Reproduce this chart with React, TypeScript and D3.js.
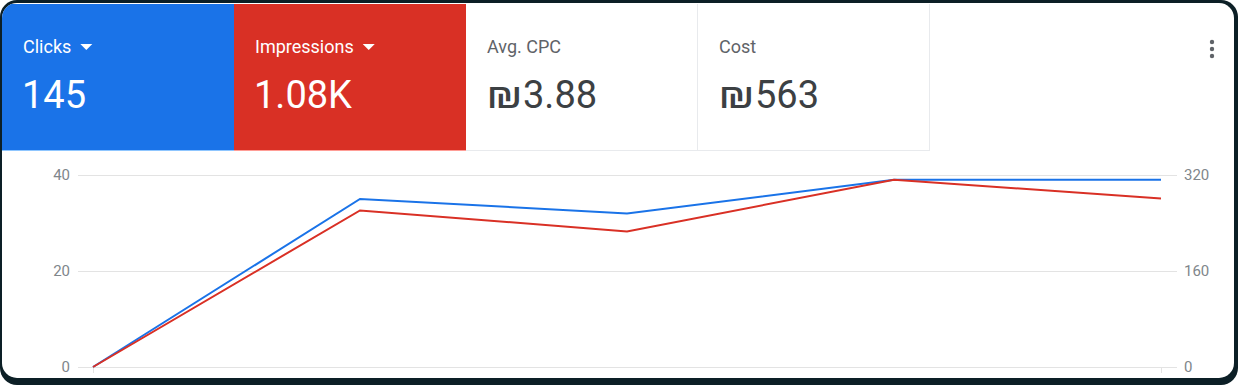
import * as d3 from 'd3';
import { useEffect, useRef } from 'react';

// data
const periods = ['p1', 'p2', 'p3', 'p4', 'p5'];
const clicks = [0, 35, 32, 39, 39];
const impressions = [0, 261, 226, 312, 281];
const leftTicks = [0, 20, 40];
const rightTicks = [0, 160, 320];

const metricLabels = ['Clicks', 'Impressions', 'Avg. CPC', 'Cost'];
const metricPrefix = ['', '', '₪', '₪'];
const metricValues = ['145', '1.08K', '3.88', '563'];
const metricColors = ['#1a73e8', '#d93025', null, null];

export default function App() {
    const ref = useRef<SVGSVGElement | null>(null);

    useEffect(() => {
        const svg = d3.select(ref.current);
        svg.selectAll('*').remove();

        const width = 1238;
        const height = 386;
        const font = 'Roboto, "Noto Sans", Arial, sans-serif';

        svg.attr('width', width).attr('height', height);

        // card frame: dark shadow/border, white inside
        svg.append('rect')
            .attr('x', 0).attr('y', 0)
            .attr('width', width).attr('height', 385)
            .attr('rx', 17)
            .attr('fill', '#0c1f26');

        svg.append('defs').append('clipPath')
            .attr('id', 'card-clip')
            .append('rect')
            .attr('x', 2).attr('y', 3)
            .attr('width', 1232).attr('height', 375)
            .attr('rx', 15);

        const card = svg.append('g').attr('clip-path', 'url(#card-clip)');
        card.append('rect')
            .attr('x', 2).attr('y', 3)
            .attr('width', 1232).attr('height', 375)
            .attr('fill', '#ffffff');

        // metric tiles
        const tileX = d3.scaleBand<number>()
            .domain(d3.range(metricLabels.length))
            .range([2, 930]);

        const tileTop = 4;
        const tileBottom = 150;

        metricLabels.forEach((label, i) => {
            const x0 = tileX(i)!;
            const w = tileX.bandwidth();
            const bg = metricColors[i];
            const g = card.append('g');

            g.append('rect')
                .attr('x', x0).attr('y', tileTop)
                .attr('width', w).attr('height', tileBottom - tileTop)
                .attr('fill', bg || '#ffffff');

            if (!bg) {
                g.append('line')
                    .attr('x1', x0 + w - 0.5).attr('x2', x0 + w - 0.5)
                    .attr('y1', tileTop).attr('y2', tileBottom)
                    .attr('stroke', '#e8eaed');
                g.append('line')
                    .attr('x1', x0).attr('x2', x0 + w)
                    .attr('y1', tileBottom + 0.5).attr('y2', tileBottom + 0.5)
                    .attr('stroke', '#e8eaed');
            } else {
                g.append('line')
                    .attr('x1', x0).attr('x2', x0 + w)
                    .attr('y1', tileBottom + 0.5).attr('y2', tileBottom + 0.5)
                    .attr('stroke', d3.color(bg)!.brighter(0.6).toString())
                    .attr('stroke-opacity', 0.5);
            }

            const labelText = g.append('text')
                .attr('x', x0 + 21).attr('y', 53)
                .attr('font-family', font)
                .attr('font-size', 18)
                .attr('fill', bg ? '#ffffff' : '#5f6368')
                .text(label);

            if (bg) {
                const tw = (labelText.node() as SVGTextElement).getComputedTextLength();
                const tx = x0 + 21 + tw + 9;
                g.append('path')
                    .attr('d', `M${tx},44 L${tx + 12},44 L${tx + 6},50 Z`)
                    .attr('fill', '#ffffff');
            }

            let vx = x0 + 20;
            if (metricPrefix[i]) {
                // currency sign is drawn wider in the reference: stretch it
                const sign = g.append('text')
                    .attr('x', 0).attr('y', 0)
                    .attr('font-family', font)
                    .attr('font-size', 38)
                    .attr('fill', '#3c4043')
                    .text(metricPrefix[i]);
                const bb = (sign.node() as SVGTextElement).getBBox();
                const target = 35;
                const sx = bb.width > 0 ? target / bb.width : 1;
                sign.attr('transform', `translate(${vx + 1 - bb.x * sx},108) scale(${sx},1)`);
                vx += 1 + target + 1;
            }

            g.append('text')
                .attr('x', vx).attr('y', 108)
                .attr('font-family', font)
                .attr('font-size', 38)
                .attr('fill', bg ? '#ffffff' : '#3c4043')
                .text(metricValues[i]);
        });

        // overflow menu
        card.selectAll('circle.menu')
            .data([42, 49, 56])
            .join('circle')
            .attr('cx', 1212)
            .attr('cy', d => d)
            .attr('r', 2.2)
            .attr('fill', '#5f6368');

        // chart
        const x = d3.scalePoint<string>()
            .domain(periods)
            .range([93, 1161]);

        const yLeft = d3.scaleLinear().domain([0, 40]).range([367, 175]);
        const yRight = d3.scaleLinear().domain([0, 320]).range([367, 175]);

        const chart = card.append('g');

        chart.selectAll('line.grid')
            .data(leftTicks)
            .join('line')
            .attr('x1', 78).attr('x2', 1177)
            .attr('y1', d => Math.round(yLeft(d)) + 0.5)
            .attr('y2', d => Math.round(yLeft(d)) + 0.5)
            .attr('stroke', '#e3e3e3');

        chart.selectAll('line.tick')
            .data([periods[0], periods[periods.length - 1]])
            .join('line')
            .attr('x1', d => x(d)! + 0.5).attr('x2', d => x(d)! + 0.5)
            .attr('y1', 367).attr('y2', 373)
            .attr('stroke', '#e3e3e3');

        chart.selectAll('text.left')
            .data(leftTicks)
            .join('text')
            .attr('x', 70)
            .attr('y', d => yLeft(d))
            .attr('dy', '0.35em')
            .attr('text-anchor', 'end')
            .attr('font-family', font)
            .attr('font-size', 15)
            .attr('fill', '#80868b')
            .text(d => d);

        chart.selectAll('text.right')
            .data(rightTicks)
            .join('text')
            .attr('x', 1184)
            .attr('y', d => yRight(d))
            .attr('dy', '0.35em')
            .attr('font-family', font)
            .attr('font-size', 15)
            .attr('fill', '#80868b')
            .text(d => d);

        const lineClicks = d3.line<number>()
            .x((_, i) => x(periods[i])!)
            .y(d => yLeft(d));

        const lineImpr = d3.line<number>()
            .x((_, i) => x(periods[i])!)
            .y(d => yRight(d));

        chart.append('path')
            .datum(clicks)
            .attr('fill', 'none')
            .attr('stroke', '#1a73e8')
            .attr('stroke-width', 2)
            .attr('d', lineClicks);

        chart.append('path')
            .datum(impressions)
            .attr('fill', 'none')
            .attr('stroke', '#d93025')
            .attr('stroke-width', 2)
            .attr('d', lineImpr);
    }, []);

    return (
        <svg
            ref={ref}
            style={{ position: 'absolute', left: 0, top: 0, display: 'block' }}
        ></svg>
    );
}
